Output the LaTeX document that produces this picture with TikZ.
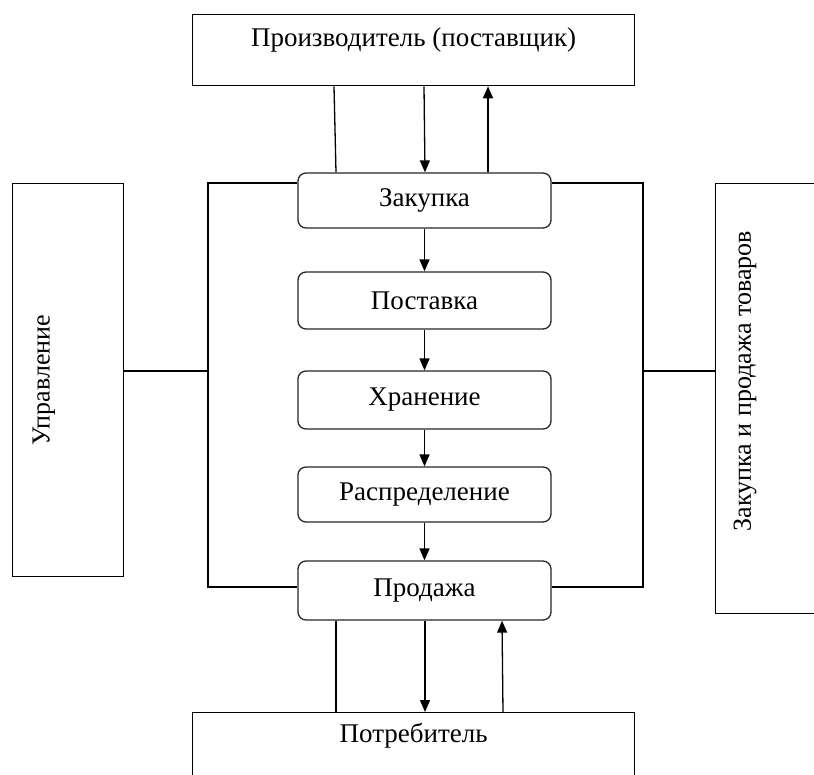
\documentclass[tikz,border=0pt]{standalone}
\usepackage{fontspec}
\setmainfont{Liberation Serif}
\usetikzlibrary{arrows.meta}
\begin{document}
\begin{tikzpicture}[x=1pt,y=-1pt,
  line width=1.3pt,
  stagebox/.style={draw=black!85, rounded corners=8pt, minimum width=253pt, font=\fontsize{27}{31}\selectfont, inner sep=0pt},
  outerbox/.style={draw, inner sep=0pt, anchor=north west},
  sidetext/.style={rotate=90, font=\fontsize{26}{30}\selectfont, inner sep=0pt},
  arr/.style={-{Triangle[length=12pt,width=10pt]}}
]
\useasboundingbox (0,0) rectangle (814,774);
\clip (0,0) rectangle (814,774);
% outer boxes
\node[outerbox, minimum width=442pt, minimum height=71pt, text height=32pt, text depth=39pt, font=\fontsize{27}{31}\selectfont] (prod) at (192,14) {Производитель (поставщик)};
\node[outerbox, minimum width=442pt, minimum height=100pt, text height=30pt, text depth=70pt, font=\fontsize{27}{31}\selectfont] (cons) at (192,712) {Потребитель};
\node[outerbox, minimum width=111pt, minimum height=393pt] (mgmt) at (12,183) {};
\node[outerbox, minimum width=130pt, minimum height=430pt] (trade) at (715,183) {};
\node[sidetext] (mgmtt) at (44,380) {Управление};
\node[sidetext] (tradet) at (745,381) {Закупка и продажа товаров};
% stages
\node[stagebox, minimum height=55pt] (s1) at (424.5,200.5) {Закупка};
\node[stagebox, minimum height=57pt] (s2) at (424.5,300.5) {Поставка};
\node[stagebox, minimum height=58pt] (s3) at (424.5,400) {Хранение};
\node[stagebox, minimum height=55pt] (s4) at (424.5,494.5) {Распределение};
\node[stagebox, minimum height=59pt] (s5) at (424.5,590.5) {Продажа};
% frame coordinates
\coordinate (ftl) at (208,183);
\coordinate (fbl) at (208,587);
\coordinate (ftr) at (643,183);
\coordinate (fbr) at (643,587);
\draw (s1.west |- ftl) -- (ftl) -- (fbl) -- (s5.west |- fbl);
\draw (s1.east |- ftr) -- (ftr) -- (fbr) -- (s5.east |- fbr);
\draw (mgmt.east |- 0,371) -- (ftl |- 0,371);
\draw (ftr |- 0,371) -- (trade.west |- 0,371);
% stage arrows
\draw[arr] (s1) -- (s2);
\draw[arr] (s2) -- (s3);
\draw[arr] (s3) -- (s4);
\draw[arr] (s4) -- (s5);
% producer links
\draw (prod.south -| 334,0) -- (s1.north -| 336,0);
\draw[arr] (prod.south -| 424,0) -- (s1.north -| 425,0);
\draw[arr] (s1.north -| 488,0) -- (prod.south -| 488,0);
% consumer links
\draw (s5.south -| 336,0) -- (cons.north -| 336,0);
\draw[arr] (s5.south -| 425,0) -- (cons.north -| 425,0);
\draw[arr] (cons.north -| 503,0) -- (s5.south -| 502,0);
\end{tikzpicture}
\end{document}
